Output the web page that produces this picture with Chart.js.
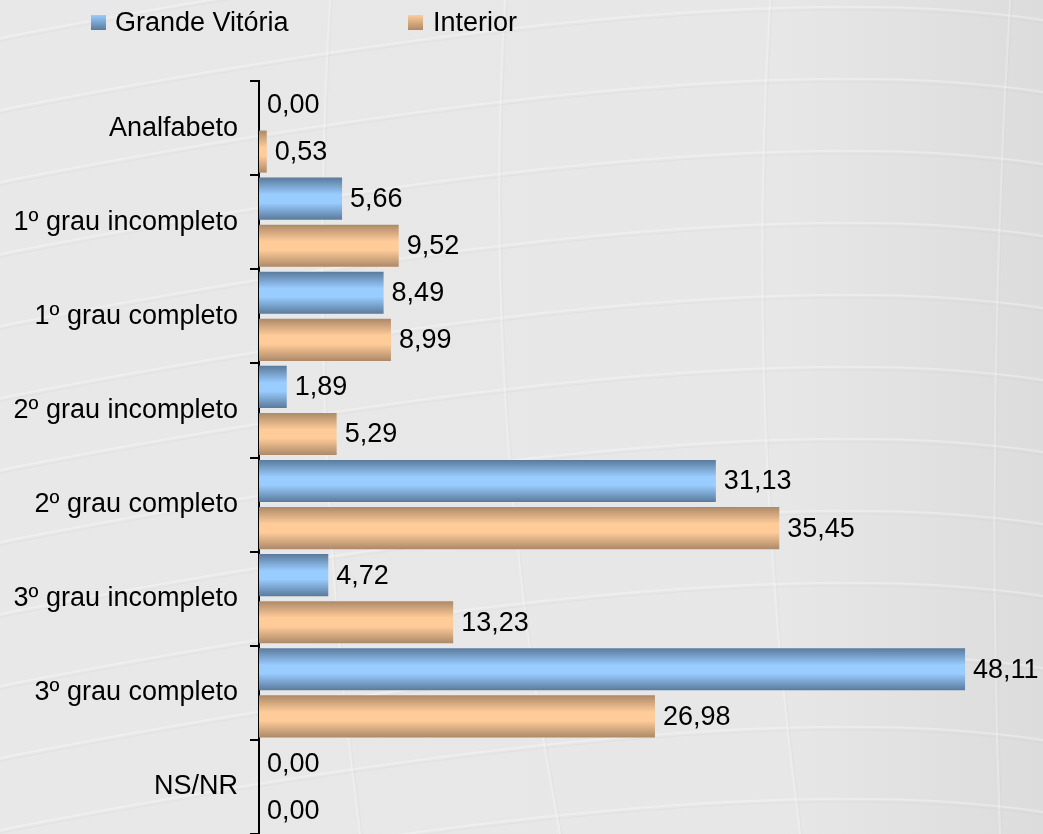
<!DOCTYPE html>
<html>
<head>
<meta charset="utf-8">
<script src="https://cdn.jsdelivr.net/npm/chart.js@4.4.1/dist/chart.umd.min.js"></script>
<style>
  html, body { margin: 0; padding: 0; background: #e8e8e8; }
  #wrap { width: 1043px; height: 834px; }
</style>
</head>
<body>
<div id="wrap"><canvas id="myChart" width="1043" height="834"></canvas></div>
<script>
// dados
var categorias = ["Analfabeto", "1º grau incompleto", "1º grau completo", "2º grau incompleto",
                  "2º grau completo", "3º grau incompleto", "3º grau completo", "NS/NR"];
var serieNomes = ["Grande Vitória", "Interior"];
var grandeVitoria = [0.00, 5.66, 8.49, 1.89, 31.13, 4.72, 48.11, 0.00];
var interior = [0.53, 9.52, 8.99, 5.29, 35.45, 13.23, 26.98, 0.00];

var fonte = '"Liberation Sans", Arial, sans-serif';
var tamFonte = 27;
var cores = [
    { escuro: '#5a7a9b', claro: '#99ccff' },
    { escuro: '#ad8968', claro: '#ffcc99' }
];

function fazGradiente(ctx, y0, y1, cor) {
    var g = ctx.createLinearGradient(0, y0, 0, y1);
    g.addColorStop(0, cor.escuro);
    g.addColorStop(0.4, cor.claro);
    g.addColorStop(0.6, cor.claro);
    g.addColorStop(1, cor.escuro);
    return g;
}

// fundo cinza com linhas curvas (bem fracas)
var fundoPlugin = {
    id: 'fundo',
    beforeDraw: function(chart) {
        var ctx = chart.ctx, w = chart.width, h = chart.height;
        ctx.save();
        var g = ctx.createLinearGradient(0, 0, w, 0);
        g.addColorStop(0, '#e8e8e8');
        g.addColorStop(0.75, '#e7e7e7');
        g.addColorStop(1, '#dcdcdc');
        ctx.fillStyle = g;
        ctx.fillRect(0, 0, w, h);

        for (var k = -2; k < 14; k++) {
            var y = k * 72;
            ctx.beginPath();
            ctx.moveTo(0, y + 110);
            ctx.quadraticCurveTo(720, y - 30, w, y + 20);
            ctx.strokeStyle = 'rgba(255,255,255,0.3)';
            ctx.lineWidth = 2;
            ctx.stroke();
            ctx.beginPath();
            ctx.moveTo(0, y + 113);
            ctx.quadraticCurveTo(720, y - 27, w, y + 23);
            ctx.strokeStyle = 'rgba(190,190,190,0.15)';
            ctx.lineWidth = 1;
            ctx.stroke();
        }
        var verticais = [[330, 360], [505, 560], [770, 800], [1010, 1000]];
        verticais.forEach(function(v) {
            ctx.beginPath();
            ctx.moveTo(v[0], 0);
            ctx.quadraticCurveTo(v[0] - 25, h / 2, v[1], h);
            ctx.strokeStyle = 'rgba(255,255,255,0.25)';
            ctx.lineWidth = 2;
            ctx.stroke();
            ctx.beginPath();
            ctx.moveTo(v[0] + 2, 0);
            ctx.quadraticCurveTo(v[0] - 23, h / 2, v[1] + 2, h);
            ctx.strokeStyle = 'rgba(190,190,190,0.12)';
            ctx.lineWidth = 1;
            ctx.stroke();
        });
        ctx.restore();
    }
};

// gradiente nas barras + rótulos de valor
var barrasPlugin = {
    id: 'barras',
    beforeDatasetsDraw: function(chart) {
        var ctx = chart.ctx;
        chart.data.datasets.forEach(function(ds, i) {
            var meta = chart.getDatasetMeta(i);
            meta.data.forEach(function(bar) {
                var p = bar.getProps(['y', 'height'], true);
                var grad = fazGradiente(ctx, p.y - p.height / 2, p.y + p.height / 2, cores[i]);
                bar.options = Object.assign({}, bar.options, { backgroundColor: grad });
            });
        });
    },
    afterDatasetsDraw: function(chart) {
        var ctx = chart.ctx;
        ctx.save();
        ctx.font = tamFonte + 'px ' + fonte;
        ctx.fillStyle = '#000';
        ctx.textAlign = 'left';
        ctx.textBaseline = 'middle';
        chart.data.datasets.forEach(function(ds, i) {
            var meta = chart.getDatasetMeta(i);
            meta.data.forEach(function(bar, j) {
                var p = bar.getProps(['x', 'y'], true);
                var txt = ds.data[j].toFixed(2).replace('.', ',');
                ctx.fillText(txt, p.x + 8, p.y + 1);
            });
        });
        ctx.restore();
    }
};

// legenda
var legendaPlugin = {
    id: 'legenda',
    afterDraw: function(chart) {
        var ctx = chart.ctx;
        var pos = [[91, 115], [408, 433]];
        ctx.save();
        ctx.font = tamFonte + 'px ' + fonte;
        ctx.textBaseline = 'alphabetic';
        chart.data.datasets.forEach(function(ds, i) {
            var g = ctx.createLinearGradient(0, 15, 0, 30);
            g.addColorStop(0, cores[i].claro);
            g.addColorStop(1, cores[i].escuro);
            ctx.fillStyle = g;
            ctx.fillRect(pos[i][0], 15, 15, 15);
            ctx.fillStyle = '#000';
            ctx.fillText(ds.label, pos[i][1], 31);
        });
        ctx.restore();
    }
};

var ctx = document.getElementById('myChart').getContext('2d');

var myChart = new Chart(ctx, {
    type: 'bar',
    data: {
        labels: categorias,
        datasets: [
            { label: serieNomes[0], data: grandeVitoria, backgroundColor: cores[0].claro },
            { label: serieNomes[1], data: interior, backgroundColor: cores[1].claro }
        ]
    },
    options: {
        indexAxis: 'y',
        responsive: false,
        animation: false,
        devicePixelRatio: 1,
        categoryPercentage: 1,
        barPercentage: 0.894,
        layout: { padding: { top: 81, right: 0, bottom: 0, left: 0 } },
        plugins: {
            legend: { display: false },
            tooltip: { enabled: false }
        },
        scales: {
            x: {
                display: false,
                min: 0,
                max: 53.42
            },
            y: {
                afterFit: function(axis) {
                    axis.width = 259;
                    axis.paddingTop = 0;
                    axis.paddingBottom = 0;
                },
                border: { display: true, color: '#000', width: 2 },
                grid: {
                    offset: true,
                    drawOnChartArea: false,
                    drawTicks: true,
                    tickLength: 9,
                    color: '#000',
                    lineWidth: 2
                },
                ticks: {
                    color: '#000',
                    padding: 12,
                    font: { family: fonte, size: tamFonte }
                }
            }
        }
    },
    plugins: [fundoPlugin, barrasPlugin, legendaPlugin]
});
</script>
</body>
</html>
